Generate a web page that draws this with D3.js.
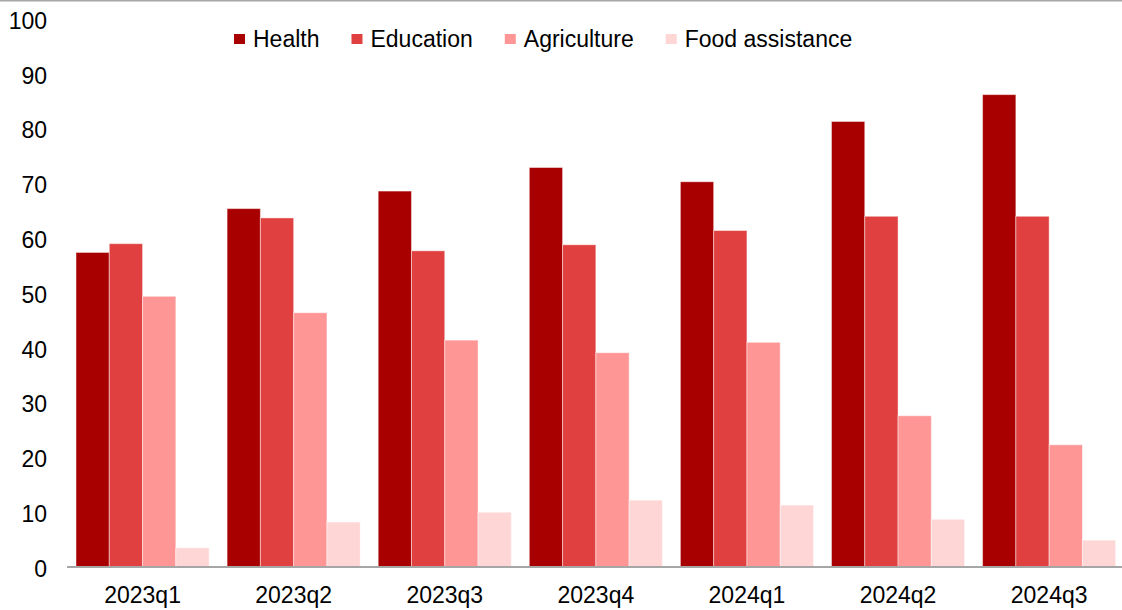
<!DOCTYPE html>
<html>
<head>
<meta charset="utf-8">
<script src="https://cdn.jsdelivr.net/npm/d3@7"></script>
<style>
  html, body { margin: 0; padding: 0; background: #fff; overflow: hidden; }
  svg { display: block; }
  text { font-family: "Liberation Sans", Arial, sans-serif; fill: #000; }
</style>
</head>
<body>
<svg id="chart" width="1122" height="610"></svg>
<script>
const categories = ["2023q1", "2023q2", "2023q3", "2023q4", "2024q1", "2024q2", "2024q3"];
const seriesNames = ["Health", "Education", "Agriculture", "Food assistance"];
const health      = [57.4, 65.4, 68.6, 72.9, 70.3, 81.3, 86.2];
const education   = [59.0, 63.7, 57.7, 58.8, 61.4, 64.0, 64.0];
const agriculture = [49.4, 46.4, 41.4, 39.1, 41.0, 27.6, 22.3];
const food        = [3.5, 8.2, 10.0, 12.2, 11.3, 8.7, 4.9];
const yTicks = [0, 10, 20, 30, 40, 50, 60, 70, 80, 90, 100];

const seriesValues = [health, education, agriculture, food];
const colors = ["#a80000", "#e04040", "#ff9696", "#ffd6d6"];

const W = 1122, H = 610;
const svg = d3.select("#chart");

const plotLeft = 67, plotRight = 1124.7;
const y = d3.scaleLinear().domain([0, 100]).range([567, 19]);
const x0 = d3.scaleBand().domain(categories).range([plotLeft, plotRight])
  .paddingInner(0.119).paddingOuter(0.0596);
const x1 = d3.scaleBand().domain(seriesNames).range([0, x0.bandwidth()]);

// top border line
svg.append("line").attr("x1", 0).attr("x2", W).attr("y1", 0.5).attr("y2", 0.5)
  .attr("stroke", "#a6a6a6").attr("stroke-width", 2);

// bars
const data = categories.map((c, i) => ({
  cat: c,
  vals: seriesNames.map((s, j) => ({ s, v: seriesValues[j][i], c: colors[j] }))
}));
const groups = svg.append("g").selectAll("g").data(data).join("g")
  .attr("transform", d => `translate(${x0(d.cat)},0)`);
groups.selectAll("rect").data(d => d.vals).join("rect")
  .attr("x", d => x1(d.s))
  .attr("width", x1.bandwidth())
  .attr("y", d => y(d.v))
  .attr("height", d => y(0) - y(d.v))
  .attr("fill", d => d.c)
  .attr("stroke", "#ffffff").attr("stroke-opacity", 0.45).attr("stroke-width", 1);

// y axis labels
const yAxis = d3.axisLeft(y).tickValues(yTicks).tickSize(0).tickPadding(0);
const yg = svg.append("g").attr("transform", "translate(47,0)").call(yAxis);
yg.select(".domain").remove();
yg.selectAll("text").attr("font-size", 23).attr("font-family", "Liberation Sans, Arial, sans-serif")
  .attr("fill", "#000").attr("dy", "0.36em").attr("y", 1);

// x axis
const xAxis = d3.axisBottom(x0).tickSize(0).tickPadding(0);
const xg = svg.append("g").attr("transform", "translate(0,567)").call(xAxis);
xg.select(".domain").remove();
xg.selectAll("text").attr("font-size", 23).attr("font-family", "Liberation Sans, Arial, sans-serif")
  .attr("fill", "#000").attr("y", 36).attr("dy", 0);
svg.append("line").attr("x1", plotLeft).attr("x2", W).attr("y1", 567).attr("y2", 567)
  .attr("stroke", "#a6a6a6").attr("stroke-width", 2);

// legend
const legend = svg.append("g");
let lx = 234;
seriesNames.forEach((name, i) => {
  legend.append("rect").attr("x", lx).attr("y", 34).attr("width", 11).attr("height", 10)
    .attr("fill", colors[i]);
  const t = legend.append("text").attr("x", lx + 19).attr("y", 46.5)
    .attr("font-size", 23).text(name);
  const w = t.node().getComputedTextLength();
  lx = lx + 19 + w + 32;
});
</script>
</body>
</html>
